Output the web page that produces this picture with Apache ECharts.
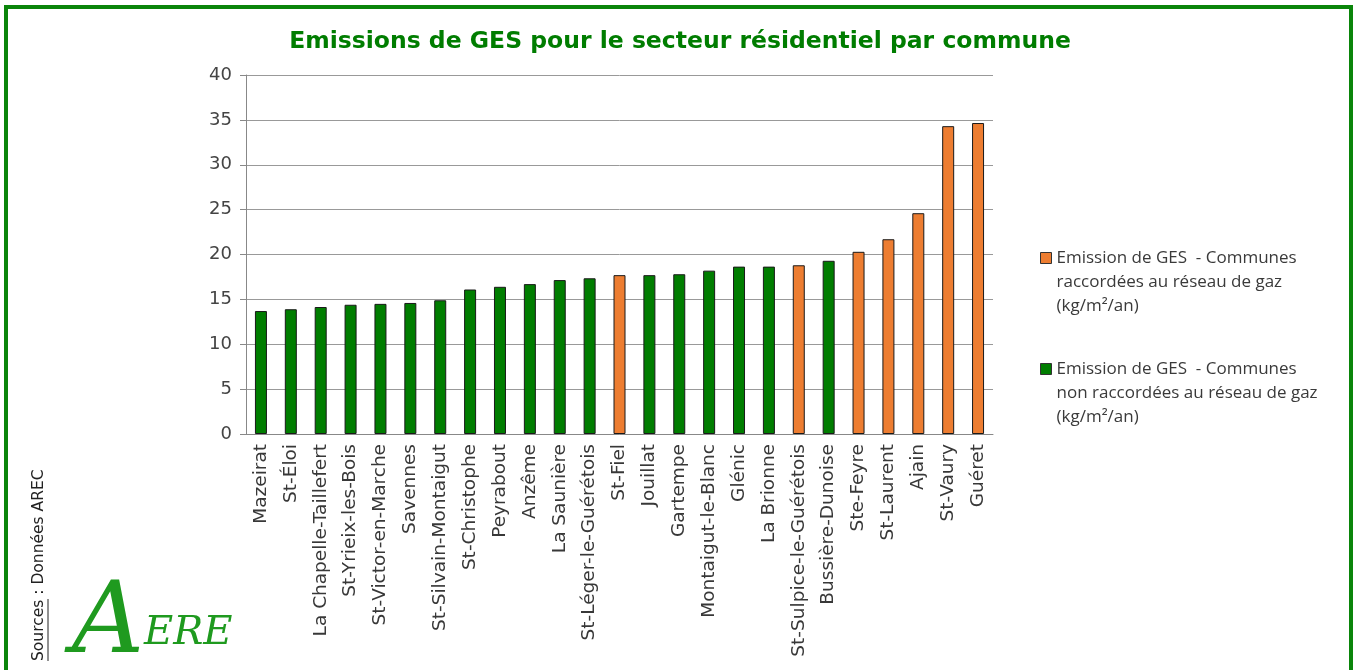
<!DOCTYPE html>
<html>
<head>
<meta charset="utf-8">
<title>Emissions de GES</title>
<script src="https://cdn.jsdelivr.net/npm/echarts@6/dist/echarts.min.js"></script>
<style>
  html, body { margin: 0; padding: 0; background: #fff; }
  #main { width: 1357px; height: 670px; }
</style>
</head>
<body>
<div id="main"></div>
<script>
// communes, triees par emission croissante
const communes = ['Mazeirat', 'St-Éloi', 'La Chapelle-Taillefert', 'St-Yrieix-les-Bois', 'St-Victor-en-Marche',
  'Savennes', 'St-Silvain-Montaigut', 'St-Christophe', 'Peyrabout', 'Anzême', 'La Saunière',
  'St-Léger-le-Guérétois', 'St-Fiel', 'Jouillat', 'Gartempe', 'Montaigut-le-Blanc', 'Glénic',
  'La Brionne', 'St-Sulpice-le-Guérétois', 'Bussière-Dunoise', 'Ste-Feyre', 'St-Laurent', 'Ajain',
  'St-Vaury', 'Guéret']
const emissions = [13.7, 13.9, 14.15, 14.4, 14.5, 14.6, 14.9, 16.1, 16.4, 16.7, 17.15,
  17.35, 17.7, 17.7, 17.8, 18.2, 18.65, 18.65, 18.8, 19.3, 20.3, 21.7, 24.6, 34.3, 34.65]
// communes raccordees au reseau de gaz
const raccordees = ['St-Fiel', 'St-Sulpice-le-Guérétois', 'Ste-Feyre', 'St-Laurent', 'Ajain', 'St-Vaury', 'Guéret']
const yTicks = [0, 5, 10, 15, 20, 25, 30, 35, 40]

const nomGaz = 'Emission de GES  - Communes\nraccordées au réseau de gaz\n(kg/m²/an)'
const nomSansGaz = 'Emission de GES  - Communes\nnon raccordées au réseau de gaz\n(kg/m²/an)'

const serieGaz = communes.map((c, i) => raccordees.includes(c) ? emissions[i] : null)
const serieSansGaz = communes.map((c, i) => raccordees.includes(c) ? null : emissions[i])

const vert = '#007d00'
const orange = '#ed7d31'
const police = '"DejaVu Sans", sans-serif'

// legende : deux lignes vides devant le nom pour que l'icone (centree) tombe sur la 1re ligne
function legende (nom, haut) {
  return {
    orient: 'vertical',
    left: 1035,
    top: haut,
    icon: 'rect',
    itemWidth: 11,
    itemHeight: 11,
    data: [nom],
    formatter: n => '\n\n' + n,
    itemStyle: { borderColor: '#333', borderWidth: 1 },
    textStyle: {
      fontFamily: '"Open Sans", sans-serif',
      fontSize: 17,
      color: '#3a3a3a',
      lineHeight: 24
    }
  }
}

const chart = echarts.init(document.getElementById('main'))
chart.setOption({
  animation: false,
  title: {
    text: 'Emissions de GES pour le secteur résidentiel par commune',
    left: 675,
    textAlign: 'center',
    top: 25,
    textStyle: { color: vert, fontFamily: police, fontWeight: 'bold', fontSize: 23.5 }
  },
  legend: [legende(nomGaz, 193), legende(nomSansGaz, 304)],
  grid: { left: 246, right: 364, top: 75, bottom: 236 },
  xAxis: {
    type: 'category',
    data: communes,
    axisLine: { lineStyle: { color: '#888' } },
    axisTick: { lineStyle: { color: '#999' }, length: 6 },
    axisLabel: {
      rotate: 90,
      interval: 0,
      margin: 10,
      fontFamily: police,
      fontSize: 18.5,
      color: '#383838'
    }
  },
  yAxis: {
    type: 'value',
    min: yTicks[0],
    max: yTicks[yTicks.length - 1],
    interval: 5,
    axisLine: { show: true, lineStyle: { color: '#888' } },
    axisTick: { show: true, length: 6, lineStyle: { color: '#888' } },
    splitLine: { lineStyle: { color: '#999' } },
    axisLabel: { fontFamily: police, fontSize: 18, color: '#444', margin: 14 }
  },
  series: [
    {
      name: nomGaz,
      type: 'bar',
      stack: 'ges',
      barWidth: 12,
      data: serieGaz,
      itemStyle: { color: orange, borderColor: '#1a1a1a', borderWidth: 1 }
    },
    {
      name: nomSansGaz,
      type: 'bar',
      stack: 'ges',
      barWidth: 12,
      data: serieSansGaz,
      itemStyle: { color: vert, borderColor: '#1a1a1a', borderWidth: 1 }
    }
  ],
  graphic: [
    {
      type: 'rect',
      silent: true,
      shape: { x: 6, y: 7, width: 1345, height: 700 },
      style: { fill: 'none', stroke: '#0a850a', lineWidth: 4 }
    },
    {
      type: 'text',
      x: 31,
      y: 661,
      rotation: Math.PI / 2,
      style: { text: 'Sources : Données AREC', fontFamily: police, fontSize: 15.5, fill: '#222' }
    },
    {
      type: 'line',
      shape: { x1: 48, y1: 661, x2: 48, y2: 599 },
      style: { stroke: '#222', lineWidth: 1 }
    },
    {
      type: 'text',
      x: 72,
      y: 576,
      style: { text: 'A', fontFamily: '"DejaVu Serif", serif', fontStyle: 'italic', fontSize: 100, fill: '#1f9a1f' }
    },
    {
      type: 'text',
      x: 144,
      y: 614,
      style: { text: 'ERE', fontFamily: '"DejaVu Serif", serif', fontStyle: 'italic', fontSize: 40, fill: '#1f9a1f' }
    }
  ]
})
</script>
</body>
</html>
